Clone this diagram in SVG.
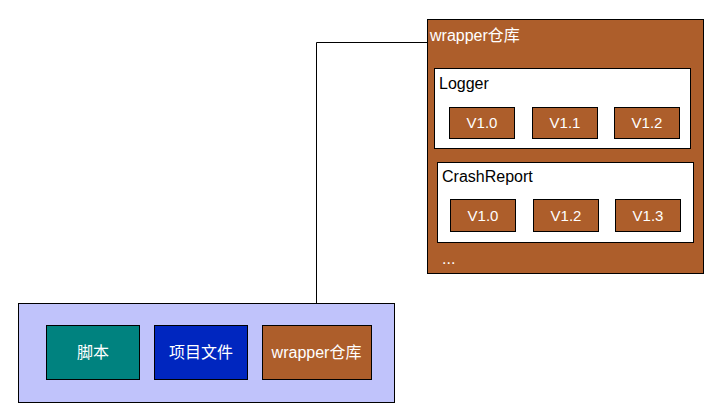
<svg xmlns="http://www.w3.org/2000/svg" width="723" height="420" viewBox="0 0 723 420">
<style>
.b{stroke:#000;stroke-width:1}
.brown{fill:#AD5E2B}
.white{fill:#fff}
.t{font-family:"Liberation Sans","Noto Sans CJK SC",sans-serif;font-size:16px;fill:#fff}
.tk{font-family:"Liberation Sans","Noto Sans CJK SC",sans-serif;font-size:16px;fill:#000}
.v{font-family:"Liberation Sans",sans-serif;font-size:15px;fill:#fff;text-anchor:middle}
.c{text-anchor:middle}
</style>
<rect width="723" height="420" fill="#fff"/>
<g id="connectors">
<path d="M316.5 325.5 V42.5 H427.5" fill="none" stroke="#000" stroke-width="1"/>
</g>
<g id="repo">
<rect class="b brown" x="427.5" y="19.5" width="276" height="254"/>
<text class="t" x="430" y="40.5">wrapper仓库</text>
<text class="t" x="442" y="264">...</text>
</g>
<g id="logger">
<rect class="b white" x="434.5" y="68.5" width="256" height="80"/>
<text class="tk" x="439" y="88.5">Logger</text>
</g>
<g id="logger-v10"><rect class="b brown" x="449.5" y="107.5" width="65" height="31"/><text class="v" x="482" y="128">V1.0</text></g>
<g id="logger-v11"><rect class="b brown" x="532.5" y="107.5" width="65" height="31"/><text class="v" x="565" y="128">V1.1</text></g>
<g id="logger-v12"><rect class="b brown" x="614.5" y="107.5" width="65" height="31"/><text class="v" x="647" y="128">V1.2</text></g>
<g id="crashreport">
<rect class="b white" x="437.5" y="162.5" width="256" height="80"/>
<text class="tk" x="442" y="182">CrashReport</text>
</g>
<g id="cr-v10"><rect class="b brown" x="450.5" y="199.5" width="65" height="32"/><text class="v" x="483" y="220.5">V1.0</text></g>
<g id="cr-v12"><rect class="b brown" x="533.5" y="199.5" width="65" height="32"/><text class="v" x="566" y="220.5">V1.2</text></g>
<g id="cr-v13"><rect class="b brown" x="615.5" y="199.5" width="65" height="32"/><text class="v" x="648" y="220.5">V1.3</text></g>
<g id="project">
<rect class="b" fill="#C0C3FB" x="18.5" y="303.5" width="376" height="99"/>
</g>
<g id="script"><rect class="b" fill="#00827F" x="46.5" y="325.5" width="93" height="54"/><text class="t c" x="93" y="358">脚本</text></g>
<g id="files"><rect class="b" fill="#0026BF" x="154.5" y="325.5" width="93" height="54"/><text class="t c" x="201" y="358">项目文件</text></g>
<g id="wrapper"><rect class="b brown" x="262.5" y="325.5" width="109" height="54"/><text class="t c" x="316.5" y="358">wrapper仓库</text></g>
</svg>
